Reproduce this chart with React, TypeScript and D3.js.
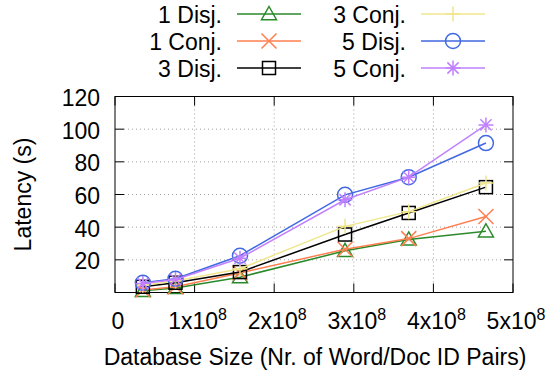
import React from "react";
import * as d3 from "d3";

const sizes = [3.5e7, 7.6e7, 1.57e8, 2.89e8, 3.69e8, 4.66e8];
const disj1 = [1, 2.8, 9.4, 25.5, 32.5, 37.5];
const conj1 = [1.5, 3.5, 12, 26.5, 33, 46.5];
const disj3 = [3.5, 6, 12.5, 35.5, 48.7, 64.5];
const conj3 = [4.5, 7, 14.5, 40.5, 49.5, 67];
const disj5 = [5.9, 8.4, 22.5, 59.8, 70.6, 91.5];
const conj5 = [5.5, 8, 21, 56.8, 70.6, 102.6];
const yTicks = [20, 40, 60, 80, 100, 120];
const xTicks = [0, 1e8, 2e8, 3e8, 4e8, 5e8];

type Marker = "triangle" | "x" | "square" | "plus" | "circle" | "star";
const seriesList: { name: string; values: number[]; color: string; marker: Marker }[] = [
  { name: "1 Disj.", values: disj1, color: "#2a8a2a", marker: "triangle" },
  { name: "1 Conj.", values: conj1, color: "#ff7f50", marker: "x" },
  { name: "3 Disj.", values: disj3, color: "#000000", marker: "square" },
  { name: "3 Conj.", values: conj3, color: "#f0e68c", marker: "plus" },
  { name: "5 Disj.", values: disj5, color: "#4169e1", marker: "circle" },
  { name: "5 Conj.", values: conj5, color: "#c080ff", marker: "star" },
];

const FONT = "'Liberation Sans', Arial, sans-serif";
const FS = 23;

function MarkerShape({ type, cx, cy, color }: { type: Marker; cx: number; cy: number; color: string }) {
  const s = 7.5;
  const common = { stroke: color, strokeWidth: 1.5, fill: "none" } as any;
  switch (type) {
    case "triangle":
      return <path d={`M${cx},${cy - s} L${cx + s},${cy + s * 0.75} L${cx - s},${cy + s * 0.75} Z`} {...common} />;
    case "x":
      return <path d={`M${cx - s},${cy - s} L${cx + s},${cy + s} M${cx - s},${cy + s} L${cx + s},${cy - s}`} {...common} />;
    case "square":
      return <rect x={cx - 6.5} y={cy - 6.5} width={13} height={13} {...common} />;
    case "plus":
      return <path d={`M${cx - s},${cy} L${cx + s},${cy} M${cx},${cy - s} L${cx},${cy + s}`} {...common} />;
    case "circle":
      return <circle cx={cx} cy={cy} r={s} {...common} />;
    case "star":
      return (
        <path
          d={`M${cx - s},${cy} L${cx + s},${cy} M${cx},${cy - s} L${cx},${cy + s} M${cx - s * 0.75},${cy - s * 0.75} L${cx + s * 0.75},${cy + s * 0.75} M${cx - s * 0.75},${cy + s * 0.75} L${cx + s * 0.75},${cy - s * 0.75}`}
          {...common}
        />
      );
  }
}

export default function App() {
  const W = 559, H = 374;
  const left = 115, right = 513, top = 96.5, bottom = 292.5;
  const x = d3.scaleLinear().domain([0, 5e8]).range([left, right]);
  const y = d3.scaleLinear().domain([0, 120]).range([bottom, top]);
  const line = d3
    .line<number>()
    .x((_, i) => x(sizes[i]))
    .y((d) => y(d));
  const tick = 9;

  const legendCols = [
    { textRight: 222, lineX1: 237, lineX2: 301 },
    { textRight: 406, lineX1: 421, lineX2: 485 },
  ];
  const legendRows = [14, 41, 68];

  const xLabel = (v: number) => {
    if (v === 0) return <tspan>0</tspan>;
    const m = Math.round(v / 1e8);
    return (
      <>
        <tspan>{`${m}x10`}</tspan>
        <tspan dy={-9} fontSize={16}>8</tspan>
      </>
    );
  };

  return (
    <svg width={W} height={H} style={{ position: "absolute", left: 0, top: 0, background: "#fff" }} fontFamily={FONT}>
      {/* grid */}
      {yTicks.slice(0, 5).map((t) => (
        <line key={"gy" + t} x1={left + tick} x2={right - tick} y1={y(t)} y2={y(t)} stroke="#a0a0a0" strokeWidth={1} strokeDasharray="1,3" />
      ))}
      {xTicks.slice(1, 5).map((t) => (
        <line key={"gx" + t} x1={x(t)} x2={x(t)} y1={top + tick} y2={bottom - tick} stroke="#a0a0a0" strokeWidth={1} strokeDasharray="1,3" />
      ))}
      {/* ticks */}
      {yTicks.map((t) => (
        <g key={"ty" + t}>
          <line x1={left} x2={left + tick} y1={y(t)} y2={y(t)} stroke="#000" />
          <line x1={right} x2={right - tick} y1={y(t)} y2={y(t)} stroke="#000" />
          <text x={100} y={y(t) + 9.5} textAnchor="end" fontSize={FS}>{t}</text>
        </g>
      ))}
      {xTicks.map((t) => (
        <g key={"tx" + t}>
          <line x1={x(t)} x2={x(t)} y1={bottom} y2={bottom - tick} stroke="#000" />
          <line x1={x(t)} x2={x(t)} y1={top} y2={top + tick} stroke="#000" />
          <text x={x(t) + 3} y={329} textAnchor="middle" fontSize={FS}>{xLabel(t)}</text>
        </g>
      ))}
      <rect x={left} y={top} width={right - left} height={bottom - top} fill="none" stroke="#000" strokeWidth={1} />
      {/* series */}
      {seriesList.map((s) => (
        <g key={s.name}>
          <path d={line(s.values) || ""} fill="none" stroke={s.color} strokeWidth={1.5} />
          {s.values.map((v, i) => (
            <MarkerShape key={i} type={s.marker} cx={x(sizes[i])} cy={y(v)} color={s.color} />
          ))}
        </g>
      ))}
      {/* legend */}
      {seriesList.map((s, i) => {
        const col = legendCols[Math.floor(i / 3)];
        const ry = legendRows[i % 3];
        return (
          <g key={"lg" + s.name}>
            <text x={col.textRight} y={ry + 8.5} textAnchor="end" fontSize={FS}>{s.name}</text>
            <line x1={col.lineX1} x2={col.lineX2} y1={ry} y2={ry} stroke={s.color} strokeWidth={1.5} />
            <MarkerShape type={s.marker} cx={(col.lineX1 + col.lineX2) / 2} cy={ry} color={s.color} />
          </g>
        );
      })}
      {/* axis labels */}
      <text transform={`translate(31,${(top + bottom) / 2}) rotate(-90)`} textAnchor="middle" fontSize={FS}>Latency (s)</text>
      <text x={315} y={365} textAnchor="middle" fontSize={FS}>Database Size (Nr. of Word/Doc ID Pairs)</text>
    </svg>
  );
}
